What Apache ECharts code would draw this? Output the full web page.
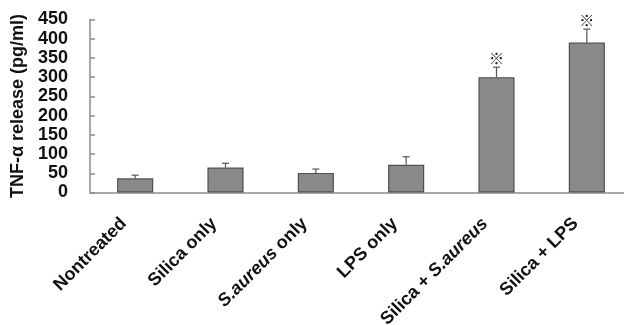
<!DOCTYPE html>
<html><head><meta charset="utf-8">
<script src="https://cdn.jsdelivr.net/npm/echarts@6/dist/echarts.min.js"></script>
<style>html,body{margin:0;padding:0;background:#fff}#c{width:624px;height:325px}</style>
</head><body><div id="c"></div>
<script>
const categories = ['Nontreated', 'Silica only', 'S.aureus only', 'LPS only', 'Silica + S.aureus', 'Silica + LPS'];
const values = [37, 65, 51, 72, 300, 390];
const errors = [8, 11, 10, 21, 26, 35];
const significant = [false, false, false, false, true, true];
const yTicks = [0, 50, 100, 150, 200, 250, 300, 350, 400, 450];

const font = '"Liberation Sans", Arial, sans-serif';
const chart = echarts.init(document.getElementById('c'), null, {renderer: 'canvas'});
chart.setOption({
  animation: false,
  grid: {left: 90, right: -8, top: 19.5, bottom: 132.5, containLabel: false, outerBoundsMode: 'none'},
  xAxis: {
    type: 'category', data: categories,
    axisLine: {lineStyle: {color: '#8c8c8c', width: 1.5}},
    axisTick: {inside: true, length: 5, lineStyle: {color: '#8c8c8c', width: 1.5}},
    axisLabel: {
      rotate: 45, margin: 17, color: '#111', fontFamily: font, fontWeight: 'bold', fontSize: 18,
      padding: [0, 16, 0, 0],
      formatter: function (v) {
        return v.replace('S.aureus', '{i|S.aureus}');
      },
      rich: {i: {fontStyle: 'italic', fontWeight: 'bold', fontFamily: font, fontSize: 18, color: '#111'}}
    }
  },
  yAxis: {
    type: 'value', min: yTicks[0], max: yTicks[yTicks.length - 1], interval: 50,
    name: 'TNF-α release (pg/ml)', nameLocation: 'middle', nameGap: 63,
    nameTextStyle: {color: '#111', fontFamily: font, fontWeight: 'bold', fontSize: 18},
    axisLine: {show: true, lineStyle: {color: '#8c8c8c', width: 1.5}},
    axisTick: {show: true, inside: true, length: 5, lineStyle: {color: '#8c8c8c', width: 1.5}},
    splitLine: {show: false},
    axisLabel: {margin: 22, color: '#111', fontFamily: font, fontWeight: 'bold', fontSize: 18}
  },
  series: [{
    type: 'bar', data: values, barWidth: '40%',
    itemStyle: {color: '#898989', borderColor: '#505050', borderWidth: 1.2}
  }, {
    type: 'custom', z: 1,
    data: values.map((v, i) => [i, v, errors[i], significant[i] ? 1 : 0]),
    renderItem: function (params, api) {
      const i = api.value(0), v = api.value(1), e = api.value(2), s = api.value(3);
      const p0 = api.coord([i, v]);
      const p1 = api.coord([i, v + e]);
      const children = [
        {type: 'line', shape: {x1: p0[0], y1: p0[1], x2: p1[0], y2: p1[1]}, style: {stroke: '#555', lineWidth: 1.2}},
        {type: 'line', shape: {x1: p1[0] - 3.5, y1: p1[1], x2: p1[0] + 3.5, y2: p1[1]}, style: {stroke: '#555', lineWidth: 1.2}}
      ];
      if (s) {
        children.push({type: 'text', style: {text: '※', x: p1[0], y: p1[1] - 9, align: 'center', verticalAlign: 'middle',
          font: '15px "Noto Sans CJK KR", sans-serif', fill: '#222'}});
      }
      return {type: 'group', children: children};
    }
  }]
});
</script></body></html>
